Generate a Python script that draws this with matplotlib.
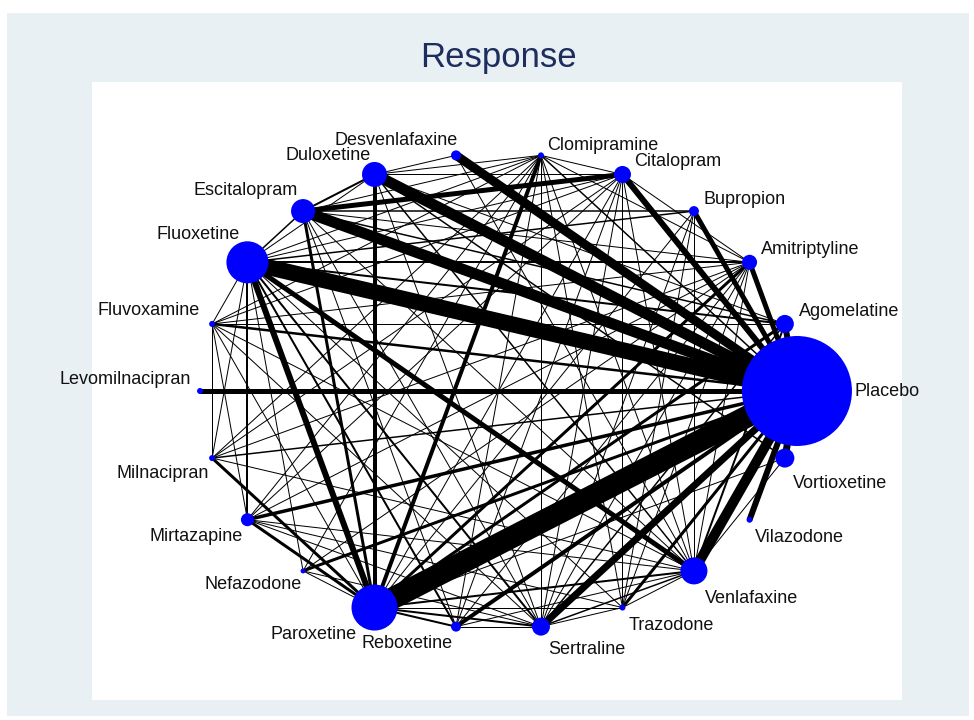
import numpy as np
import matplotlib
matplotlib.use("Agg")
import matplotlib.pyplot as plt

# treatments, in the order they sit round the circle (Placebo at 3 o'clock)
drugs = ["Placebo", "Agomelatine", "Amitriptyline", "Bupropion", "Citalopram",
         "Clomipramine", "Desvenlafaxine", "Duloxetine", "Escitalopram",
         "Fluoxetine", "Fluvoxamine", "Levomilnacipran", "Milnacipran",
         "Mirtazapine", "Nefazodone", "Paroxetine", "Reboxetine", "Sertraline",
         "Trazodone", "Venlafaxine", "Vilazodone", "Vortioxetine"]

# node size (diameter)
node_size = [110, 18, 15, 10, 17, 6, 10, 25, 24, 42, 6, 6, 6, 13, 5, 46, 10,
             18, 6, 27, 6, 19]

# comparisons: (a, b, thickness)
edges = [
    ("Placebo", "Agomelatine", 6), ("Placebo", "Amitriptyline", 5),
    ("Placebo", "Bupropion", 5), ("Placebo", "Citalopram", 6),
    ("Placebo", "Clomipramine", 1.5), ("Placebo", "Desvenlafaxine", 9),
    ("Placebo", "Duloxetine", 11), ("Placebo", "Escitalopram", 11),
    ("Placebo", "Fluoxetine", 16), ("Placebo", "Fluvoxamine", 2.5),
    ("Placebo", "Levomilnacipran", 5), ("Placebo", "Milnacipran", 1.5),
    ("Placebo", "Mirtazapine", 3.5), ("Placebo", "Nefazodone", 3),
    ("Placebo", "Paroxetine", 22), ("Placebo", "Reboxetine", 4),
    ("Placebo", "Sertraline", 7), ("Placebo", "Trazodone", 3),
    ("Placebo", "Venlafaxine", 10), ("Placebo", "Vilazodone", 6),
    ("Placebo", "Vortioxetine", 7),
    ("Agomelatine", "Escitalopram", 1.5), ("Agomelatine", "Fluoxetine", 2),
    ("Agomelatine", "Paroxetine", 3), ("Agomelatine", "Sertraline", 1.5),
    ("Agomelatine", "Venlafaxine", 2), ("Agomelatine", "Fluvoxamine", 1),
    ("Agomelatine", "Duloxetine", 1),
    ("Amitriptyline", "Fluoxetine", 2), ("Amitriptyline", "Paroxetine", 3),
    ("Amitriptyline", "Clomipramine", 1), ("Amitriptyline", "Citalopram", 1),
    ("Amitriptyline", "Fluvoxamine", 1), ("Amitriptyline", "Mirtazapine", 1),
    ("Amitriptyline", "Milnacipran", 1), ("Amitriptyline", "Reboxetine", 1),
    ("Amitriptyline", "Sertraline", 1), ("Amitriptyline", "Trazodone", 1),
    ("Amitriptyline", "Venlafaxine", 1), ("Amitriptyline", "Escitalopram", 1),
    ("Amitriptyline", "Nefazodone", 1),
    ("Bupropion", "Escitalopram", 1.5), ("Bupropion", "Fluoxetine", 1.5),
    ("Bupropion", "Paroxetine", 1), ("Bupropion", "Sertraline", 1),
    ("Bupropion", "Venlafaxine", 1), ("Bupropion", "Trazodone", 1),
    ("Citalopram", "Escitalopram", 5), ("Citalopram", "Fluoxetine", 1),
    ("Citalopram", "Clomipramine", 1), ("Citalopram", "Paroxetine", 1),
    ("Citalopram", "Sertraline", 1), ("Citalopram", "Venlafaxine", 1),
    ("Citalopram", "Mirtazapine", 1), ("Citalopram", "Reboxetine", 1),
    ("Citalopram", "Fluvoxamine", 1), ("Citalopram", "Duloxetine", 1),
    ("Citalopram", "Trazodone", 1), ("Citalopram", "Milnacipran", 1),
    ("Clomipramine", "Paroxetine", 4), ("Clomipramine", "Sertraline", 1),
    ("Clomipramine", "Fluoxetine", 1), ("Clomipramine", "Fluvoxamine", 1),
    ("Clomipramine", "Duloxetine", 1), ("Clomipramine", "Escitalopram", 1),
    ("Clomipramine", "Venlafaxine", 1), ("Clomipramine", "Milnacipran", 1),
    ("Clomipramine", "Mirtazapine", 1), ("Clomipramine", "Reboxetine", 1),
    ("Clomipramine", "Trazodone", 1), ("Clomipramine", "Nefazodone", 1),
    ("Desvenlafaxine", "Duloxetine", 1), ("Desvenlafaxine", "Venlafaxine", 1),
    ("Duloxetine", "Escitalopram", 2), ("Duloxetine", "Paroxetine", 4),
    ("Duloxetine", "Fluoxetine", 1), ("Duloxetine", "Venlafaxine", 1.5),
    ("Duloxetine", "Sertraline", 1), ("Duloxetine", "Vortioxetine", 1.5),
    ("Escitalopram", "Paroxetine", 3), ("Escitalopram", "Fluoxetine", 1.5),
    ("Escitalopram", "Sertraline", 1), ("Escitalopram", "Venlafaxine", 1),
    ("Escitalopram", "Reboxetine", 1),
    ("Fluoxetine", "Paroxetine", 6), ("Fluoxetine", "Venlafaxine", 5),
    ("Fluoxetine", "Sertraline", 2), ("Fluoxetine", "Mirtazapine", 2),
    ("Fluoxetine", "Reboxetine", 2), ("Fluoxetine", "Fluvoxamine", 1),
    ("Fluoxetine", "Milnacipran", 1), ("Fluoxetine", "Nefazodone", 1),
    ("Fluoxetine", "Trazodone", 1),
    ("Fluvoxamine", "Milnacipran", 1), ("Fluvoxamine", "Paroxetine", 1),
    ("Fluvoxamine", "Sertraline", 1), ("Fluvoxamine", "Mirtazapine", 1),
    ("Fluvoxamine", "Venlafaxine", 1),
    ("Milnacipran", "Paroxetine", 3), ("Milnacipran", "Venlafaxine", 1),
    ("Mirtazapine", "Paroxetine", 3), ("Mirtazapine", "Sertraline", 1),
    ("Mirtazapine", "Venlafaxine", 1), ("Mirtazapine", "Trazodone", 1),
    ("Nefazodone", "Paroxetine", 1), ("Nefazodone", "Sertraline", 1),
    ("Paroxetine", "Reboxetine", 2), ("Paroxetine", "Sertraline", 2),
    ("Paroxetine", "Venlafaxine", 2), ("Paroxetine", "Trazodone", 1),
    ("Paroxetine", "Vortioxetine", 1),
    ("Reboxetine", "Sertraline", 1), ("Reboxetine", "Venlafaxine", 1),
    ("Sertraline", "Venlafaxine", 1.5), ("Sertraline", "Trazodone", 1),
    ("Trazodone", "Venlafaxine", 1), ("Venlafaxine", "Vortioxetine", 1),
]

# label placement: offset in pixels (dx, dy down) and alignment
label_pos = {
    "Placebo": (58, 0, "left"), "Agomelatine": (14, -12, "left"),
    "Amitriptyline": (11, -13, "left"), "Bupropion": (10, -12, "left"),
    "Citalopram": (12, -13, "left"), "Clomipramine": (6, -10, "left"),
    "Desvenlafaxine": (2, -15, "right"), "Duloxetine": (-4, -19, "right"),
    "Escitalopram": (-5, -21, "right"), "Fluoxetine": (-8, -28, "right"),
    "Fluvoxamine": (-12, -13, "right"), "Levomilnacipran": (-9, -11, "right"),
    "Milnacipran": (-3, 15, "right"), "Mirtazapine": (-5, 17, "right"),
    "Nefazodone": (-1, 14, "right"), "Paroxetine": (-18, 27, "right"),
    "Reboxetine": (-3, 17, "right"), "Sertraline": (7, 23, "left"),
    "Trazodone": (6, 18, "left"), "Venlafaxine": (11, 28, "left"),
    "Vilazodone": (5, 18, "left"), "Vortioxetine": (8, 25, "left"),
}

plt.rcParams['font.family'] = ['Liberation Sans', 'DejaVu Sans']

n = len(drugs)
theta = 2 * np.pi * np.arange(n) / n
xs = np.cos(theta)
ys = np.sin(theta)
pos = {d: (xs[i], ys[i]) for i, d in enumerate(drugs)}

fig = plt.figure(figsize=(9.74, 7.2), dpi=100, facecolor='white')

# light outer panel, behind everything
bg = fig.add_axes([7 / 974, 4 / 720, 962 / 974, 703 / 720], zorder=-5)
bg.set_facecolor('#e8f0f3')
bg.set_xticks([])
bg.set_yticks([])
for s in bg.spines.values():
    s.set_visible(False)

ax = fig.add_axes([92 / 974, 1 - 700 / 720, 810 / 974, 618 / 720], zorder=1)
ax.set_facecolor('white')
ax.set_xlim(-1.362, 1.352)
ax.set_ylim(-1.298, 1.298)
ax.set_xticks([])
ax.set_yticks([])
for s in ax.spines.values():
    s.set_visible(False)

for a, b, w in edges:
    (x1, y1), (x2, y2) = pos[a], pos[b]
    ax.plot([x1, x2], [y1, y2], color='black', lw=w * 0.72,
            solid_capstyle='butt', zorder=1)

ax.scatter(xs, ys, s=(np.array(node_size) * 0.72) ** 2, color='#0000ff',
           edgecolors='none', zorder=3)

for d in drugs:
    dx, dy, ha = label_pos[d]
    ax.annotate(d, pos[d], xytext=(dx * 0.72, -dy * 0.72),
                textcoords='offset points', ha=ha, va='center',
                fontsize=13, color='#111111', zorder=4, annotation_clip=False)

fig.text(498 / 974, 1 - 58 / 720, "Response", ha='center', va='center',
         fontsize=25, color='#1c2d5e')

fig.savefig("out.png", dpi=100, facecolor=fig.get_facecolor())
